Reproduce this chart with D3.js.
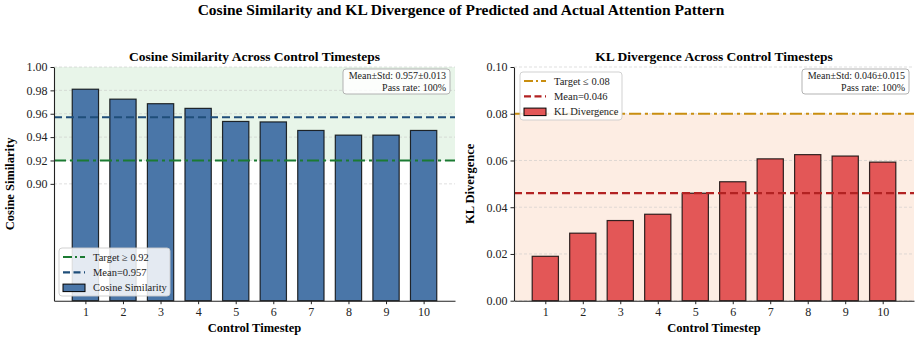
<!DOCTYPE html>
<html>
<head>
<meta charset="utf-8">
<script src="https://cdn.jsdelivr.net/npm/d3@7"></script>
<style>
  body { margin: 0; background: #fff; }
  svg { display: block; font-family: "Liberation Serif", "DejaVu Serif", serif; }
</style>
</head>
<body>
<div id="chart"></div>
<script>
// Chart data
const timesteps = [1, 2, 3, 4, 5, 6, 7, 8, 9, 10];
const cosineValues = [0.981, 0.9725, 0.9686, 0.9646, 0.9534, 0.953, 0.9457, 0.9417, 0.9417, 0.9457];
const klValues = [0.0190, 0.0289, 0.0343, 0.0370, 0.0460, 0.0509, 0.0607, 0.0625, 0.0619, 0.0593];
const cosineTicks = [0.90, 0.92, 0.94, 0.96, 0.98, 1.00];
const klTicks = [0.00, 0.02, 0.04, 0.06, 0.08, 0.10];
const cosineDomain = [0.80, 1.00];
const klDomain = [0.00, 0.10];
const cosineTarget = 0.92, cosineMean = 0.957, cosineStd = 0.013;
const klTarget = 0.08, klMean = 0.046, klStd = 0.015;

const width = 915, height = 343;

const svg = d3.select('#chart')
    .append('svg')
    .attr('width', width)
    .attr('height', height);

// Figure title
svg.append('text')
    .attr('x', 461)
    .attr('y', 15)
    .attr('text-anchor', 'middle')
    .attr('font-size', '15.5px')
    .attr('font-weight', 'bold')
    .attr('fill', '#000')
    .text('Cosine Similarity and KL Divergence of Predicted and Actual Attention Pattern');

/**
 * Draw one bar panel
 */
function drawPanel(cfg) {
    const { left, right, top, bottom } = cfg;

    const x = d3.scaleLinear().domain([0.165, 10.835]).range([left, right]);
    const y = d3.scaleLinear().domain(cfg.domain).range([bottom, top]);
    const barW = x(0.7) - x(0);

    const g = svg.append('g').attr('class', cfg.name);

    // Shaded "acceptable" region
    g.append('rect')
        .attr('x', left)
        .attr('y', y(cfg.shade[1]))
        .attr('width', right - left)
        .attr('height', y(cfg.shade[0]) - y(cfg.shade[1]))
        .attr('fill', cfg.shadeColor);

    // Horizontal grid
    g.append('g')
        .selectAll('line')
        .data(cfg.ticks)
        .enter()
        .append('line')
        .attr('x1', left)
        .attr('x2', right)
        .attr('y1', d => y(d))
        .attr('y2', d => y(d))
        .attr('stroke', '#c8c8c8')
        .attr('stroke-opacity', 0.7)
        .attr('stroke-width', 0.8)
        .attr('stroke-dasharray', '3,2');

    // Bars
    g.append('g')
        .selectAll('rect')
        .data(cfg.values)
        .enter()
        .append('rect')
        .attr('x', (d, i) => x(timesteps[i]) - barW / 2)
        .attr('y', d => y(d))
        .attr('width', barW)
        .attr('height', d => bottom - y(d))
        .attr('fill', cfg.barColor)
        .attr('stroke', '#000')
        .attr('stroke-opacity', 0.8)
        .attr('stroke-width', 1.2);

    // Target and mean lines
    g.append('line')
        .attr('x1', left).attr('x2', right)
        .attr('y1', y(cfg.target)).attr('y2', y(cfg.target))
        .attr('stroke', cfg.targetColor)
        .attr('stroke-width', 2.2)
        .attr('stroke-dasharray', '12,4,3,4');

    g.append('line')
        .attr('x1', left).attr('x2', right)
        .attr('y1', y(cfg.mean)).attr('y2', y(cfg.mean))
        .attr('stroke', cfg.meanColor)
        .attr('stroke-width', 2.2)
        .attr('stroke-dasharray', '8,4');

    // Axes (left + bottom spines only)
    const yAxis = g.append('g')
        .attr('transform', `translate(${left},0)`)
        .call(d3.axisLeft(y).tickValues(cfg.ticks).tickFormat(d3.format('.2f'))
            .tickSize(3.5).tickSizeOuter(0).tickPadding(3));
    yAxis.select('.domain').attr('stroke', '#222').attr('stroke-width', 1.1);

    const xAxis = g.append('g')
        .attr('transform', `translate(0,${bottom})`)
        .call(d3.axisBottom(x).tickValues(timesteps).tickFormat(d3.format('d'))
            .tickSize(3.5).tickSizeOuter(0).tickPadding(3));
    xAxis.select('.domain').attr('stroke', '#222').attr('stroke-width', 1.1);

    [yAxis, xAxis].forEach(ax => {
        ax.selectAll('.tick line').attr('stroke', '#222');
        ax.selectAll('.tick text')
            .attr('font-family', '"Liberation Serif", serif')
            .attr('font-size', '12px')
            .attr('fill', '#222');
    });

    // Subplot title
    g.append('text')
        .attr('x', (left + right) / 2)
        .attr('y', 61)
        .attr('text-anchor', 'middle')
        .attr('font-size', '13.5px')
        .attr('font-weight', 'bold')
        .text(cfg.title);

    // Axis labels
    g.append('text')
        .attr('x', (left + right) / 2)
        .attr('y', 332)
        .attr('text-anchor', 'middle')
        .attr('font-size', '12.5px')
        .attr('font-weight', 'bold')
        .text('Control Timestep');

    g.append('text')
        .attr('transform', `translate(${left - 40},${(top + bottom) / 2}) rotate(-90)`)
        .attr('text-anchor', 'middle')
        .attr('font-size', '12.5px')
        .attr('font-weight', 'bold')
        .text(cfg.yLabel);

    // Stats box (upper right)
    const box = g.append('g');
    box.append('rect')
        .attr('x', right - 112)
        .attr('y', 69)
        .attr('width', 107)
        .attr('height', 25)
        .attr('rx', 3)
        .attr('fill', '#fff')
        .attr('fill-opacity', 0.85)
        .attr('stroke', '#aaa')
        .attr('stroke-width', 0.9);
    box.selectAll('text')
        .data([`Mean\u00b1Std: ${cfg.mean.toFixed(3)}\u00b1${cfg.std.toFixed(3)}`, 'Pass rate: 100%'])
        .enter()
        .append('text')
        .attr('x', right - 9)
        .attr('y', (d, i) => 79 + i * 11.5)
        .attr('text-anchor', 'end')
        .attr('font-size', '10px')
        .attr('fill', '#222')
        .text(d => d);

    // Legend
    const lg = g.append('g').attr('transform', `translate(${cfg.legendX},${cfg.legendY})`);
    lg.append('rect')
        .attr('width', cfg.legendW)
        .attr('height', 48)
        .attr('rx', 3)
        .attr('fill', '#fff')
        .attr('fill-opacity', 0.85)
        .attr('stroke', '#ccc')
        .attr('stroke-width', 0.9);

    const rows = [
        { label: cfg.targetLabel, type: 'line', color: cfg.targetColor, dash: '9,3,2,3' },
        { label: `Mean=${cfg.mean.toFixed(3)}`, type: 'line', color: cfg.meanColor, dash: '7,3.5' },
        { label: cfg.barLabel, type: 'bar', color: cfg.barColor }
    ];
    rows.forEach((r, i) => {
        const cy = 9 + i * 15.3;
        if (r.type === 'line') {
            lg.append('line')
                .attr('x1', 4).attr('x2', 26)
                .attr('y1', cy).attr('y2', cy)
                .attr('stroke', r.color)
                .attr('stroke-width', 2.2)
                .attr('stroke-dasharray', r.dash);
        } else {
            lg.append('rect')
                .attr('x', 4).attr('y', cy - 3.5)
                .attr('width', 22).attr('height', 7.5)
                .attr('fill', r.color)
                .attr('stroke', '#000')
                .attr('stroke-width', 1);
        }
        lg.append('text')
            .attr('x', 34)
            .attr('y', cy + 3.6)
            .attr('font-size', '10.5px')
            .attr('fill', '#222')
            .text(r.label);
    });
}

drawPanel({
    name: 'cosine-panel',
    left: 54, right: 455, top: 67, bottom: 300.7,
    domain: cosineDomain,
    ticks: cosineTicks,
    values: cosineValues,
    shade: [cosineTarget, 1.0],
    shadeColor: '#e8f5e9',
    barColor: '#4a76a8',
    target: cosineTarget,
    targetColor: '#1b7a32',
    mean: cosineMean,
    std: cosineStd,
    meanColor: '#1f4e79',
    title: 'Cosine Similarity Across Control Timesteps',
    yLabel: 'Cosine Similarity',
    targetLabel: 'Target \u2265 0.92',
    barLabel: 'Cosine Similarity',
    legendX: 59, legendY: 248, legendW: 111
});

drawPanel({
    name: 'kl-panel',
    left: 514, right: 914, top: 67, bottom: 300.7,
    domain: klDomain,
    ticks: klTicks,
    values: klValues,
    shade: [0, klTarget],
    shadeColor: '#fdede3',
    barColor: '#e35757',
    target: klTarget,
    targetColor: '#c98e10',
    mean: klMean,
    std: klStd,
    meanColor: '#b22222',
    title: 'KL Divergence Across Control Timesteps',
    yLabel: 'KL Divergence',
    targetLabel: 'Target \u2264 0.08',
    barLabel: 'KL Divergence',
    legendX: 520, legendY: 72, legendW: 102
});
</script>
</body>
</html>
